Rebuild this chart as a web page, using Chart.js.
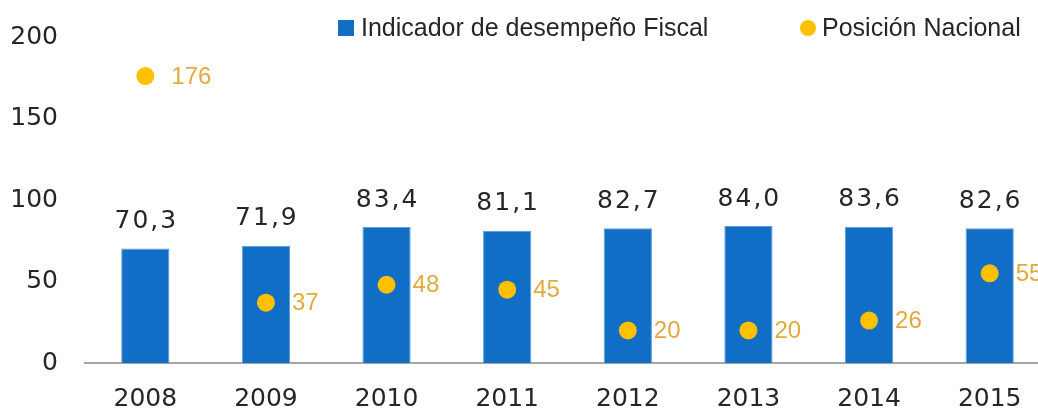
<!DOCTYPE html>
<html>
<head>
<meta charset="utf-8">
<script src="https://cdn.jsdelivr.net/npm/chart.js@4.4.1/dist/chart.umd.min.js"></script>
<style>
  html, body { margin: 0; padding: 0; overflow: hidden; background: #fff; width: 1038px; height: 408px; }
  #wrap { position: relative; width: 1050px; height: 408px; }
  #legend { position: absolute; top: 0; left: 0; width: 1050px; height: 50px; pointer-events: none;
            font-family: "Liberation Sans", Arial, sans-serif; font-size: 25px; color: #262626; }
  .item { position: absolute; top: 13px; white-space: nowrap; line-height: 28px; }
  .swatch { position: absolute; top: 7px; }
  .txt { position: absolute; top: 0; }
</style>
</head>
<body>
<div id="wrap">
  <canvas id="c" width="1050" height="408"></canvas>
  <div id="legend"></div>
</div>
<script>
const categories = ['2008', '2009', '2010', '2011', '2012', '2013', '2014', '2015'];
const indicadorValues = [70.3, 71.9, 83.4, 81.1, 82.7, 84.0, 83.6, 82.6];
const posicionValues = [176, 37, 48, 45, 20, 20, 26, 55];
const yTicks = [0, 50, 100, 150, 200];
const seriesNames = ['Indicador de desempeño Fiscal', 'Posición Nacional'];

const BAR_COLOR = '#106EC6';
const POINT_COLOR = '#FFC000';
const POINT_LABEL_COLOR = '#E2AA3C';
const TEXT_COLOR = '#262626';

const labelPlugin = {
  id: 'valueLabels',
  afterDatasetsDraw(chart) {
    const ctx = chart.ctx;
    ctx.save();
    const barMeta = chart.getDatasetMeta(0);
    ctx.font = '25px "DejaVu Sans", sans-serif';
    ctx.fillStyle = TEXT_COLOR;
    ctx.textAlign = 'center';
    ctx.textBaseline = 'middle';
    if ('letterSpacing' in ctx) ctx.letterSpacing = '2px';
    barMeta.data.forEach((el, i) => {
      const v = chart.data.datasets[0].data[i];
      ctx.fillText(v.toFixed(1).replace('.', ','), el.x + 1, el.y - 27);
    });
    if ('letterSpacing' in ctx) ctx.letterSpacing = '0px';
    const ptMeta = chart.getDatasetMeta(1);
    ctx.font = '24px "Liberation Sans", Arial, sans-serif';
    ctx.fillStyle = POINT_LABEL_COLOR;
    ctx.textAlign = 'left';
    ptMeta.data.forEach((el, i) => {
      const v = chart.data.datasets[1].data[i];
      ctx.fillText(String(v), el.x + 26, el.y + 1);
    });
    ctx.restore();
  }
};

const chart = new Chart(document.getElementById('c'), {
  data: {
    labels: categories,
    datasets: [
      {
        type: 'bar',
        label: seriesNames[0],
        data: indicadorValues,
        backgroundColor: BAR_COLOR,
        borderColor: '#5F9BDA',
        borderWidth: 1,
        barPercentage: 0.40,
        categoryPercentage: 1.0,
        order: 2
      },
      {
        type: 'line',
        label: seriesNames[1],
        data: posicionValues,
        showLine: false,
        pointRadius: 9,
        pointHoverRadius: 9,
        pointBackgroundColor: POINT_COLOR,
        pointBorderWidth: 0,
        borderColor: POINT_COLOR,
        backgroundColor: POINT_COLOR,
        order: 1
      }
    ]
  },
  options: {
    responsive: false,
    animation: false,
    devicePixelRatio: 1,
    layout: { autoPadding: false, padding: { top: 37, left: 0, right: 0, bottom: 0 } },
    plugins: {
      legend: { display: false },
      tooltip: { enabled: false }
    },
    scales: {
      x: {
        grid: { display: false, drawTicks: false },
        border: { display: true, color: '#A6A6A6', width: 2 },
        ticks: {
          color: TEXT_COLOR,
          font: { family: '"DejaVu Sans", sans-serif', size: 25 },
          padding: 21,
          maxRotation: 0
        },
        afterFit(s) { s.height = 45; }
      },
      y: {
        min: 0,
        max: 200,
        grid: { display: false, drawTicks: false },
        border: { display: false },
        ticks: {
          color: TEXT_COLOR,
          font: { family: '"DejaVu Sans", sans-serif', size: 25, lineHeight: 0.8 },
          padding: 27
        },
        afterBuildTicks(s) { s.ticks = yTicks.map(v => ({ value: v })); },
        afterFit(s) { s.width = 85; }
      }
    }
  },
  plugins: [labelPlugin]
});

(function buildLegend() {
  const legend = document.getElementById('legend');
  const layout = [
    { left: 338, textLeft: 361, shape: 'rect' },
    { left: 800, textLeft: 822, shape: 'circle' }
  ];
  chart.data.datasets.forEach((ds, i) => {
    const item = document.createElement('div');
    item.className = 'item';
    item.style.left = '0px';
    const sw = document.createElement('div');
    sw.className = 'swatch';
    sw.style.left = layout[i].left + 'px';
    sw.style.width = '16px'; sw.style.height = '16px';
    sw.style.background = layout[i].shape === 'rect' ? BAR_COLOR : POINT_COLOR;
    if (layout[i].shape === 'circle') sw.style.borderRadius = '50%';
    const tx = document.createElement('span');
    tx.className = 'txt';
    tx.style.left = layout[i].textLeft + 'px';
    tx.textContent = ds.label;
    item.appendChild(sw);
    item.appendChild(tx);
    legend.appendChild(item);
  });
})();
</script>
</body>
</html>
